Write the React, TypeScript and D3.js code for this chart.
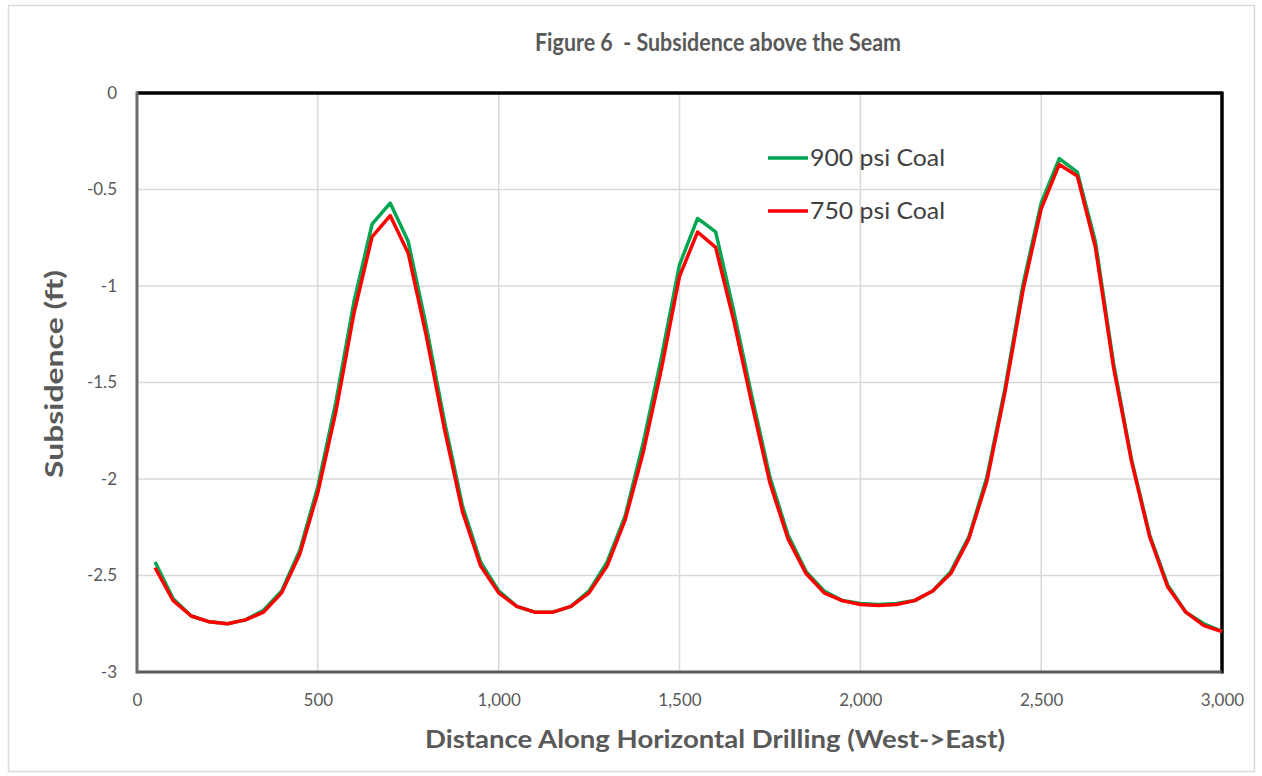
// @ts-nocheck
import * as d3 from 'd3';
import React, { useEffect, useRef } from 'react';

// distance along horizontal drilling (ft)
const distances = [
  50, 100, 150, 200, 250, 300, 350, 400, 450, 500,
  550, 600, 650, 700, 750, 800, 850, 900, 950, 1000,
  1050, 1100, 1150, 1200, 1250, 1300, 1350, 1400, 1450, 1500,
  1550, 1600, 1650, 1700, 1750, 1800, 1850, 1900, 1950, 2000,
  2050, 2100, 2150, 2200, 2250, 2300, 2350, 2400, 2450, 2500,
  2550, 2600, 2650, 2700, 2750, 2800, 2850, 2900, 2950, 3000,
];

const coal900 = [
  -2.43, -2.62, -2.71, -2.74, -2.75, -2.73, -2.68, -2.58, -2.37, -2.04,
  -1.6, -1.08, -0.68, -0.57, -0.77, -1.21, -1.7, -2.14, -2.43, -2.58,
  -2.66, -2.69, -2.69, -2.66, -2.58, -2.43, -2.19, -1.81, -1.37, -0.89,
  -0.65, -0.72, -1.13, -1.57, -1.99, -2.29, -2.48, -2.58, -2.63, -2.645,
  -2.65, -2.645, -2.63, -2.58, -2.48, -2.3, -1.99, -1.53, -0.99, -0.57,
  -0.34, -0.41, -0.77, -1.4, -1.9, -2.29, -2.55, -2.69, -2.75, -2.79,
];

const coal750 = [
  -2.46, -2.63, -2.71, -2.74, -2.75, -2.73, -2.69, -2.59, -2.39, -2.07,
  -1.65, -1.14, -0.745, -0.635, -0.83, -1.26, -1.74, -2.17, -2.45, -2.59,
  -2.66, -2.69, -2.69, -2.66, -2.59, -2.45, -2.21, -1.86, -1.43, -0.95,
  -0.72, -0.8, -1.18, -1.61, -2.02, -2.31, -2.49, -2.59, -2.63, -2.65,
  -2.655, -2.65, -2.63, -2.58, -2.49, -2.31, -2.01, -1.55, -1.02, -0.6,
  -0.37, -0.43, -0.8, -1.42, -1.91, -2.3, -2.56, -2.69, -2.76, -2.79,
];

const seriesNames = ['900 psi Coal', '750 psi Coal'];
const seriesColors = ['#00a651', '#ff0000'];

const xTicks = [0, 500, 1000, 1500, 2000, 2500, 3000];
const yTicks = [0, -0.5, -1, -1.5, -2, -2.5, -3];

const W = 1262;
const H = 776;
const FONT = 'Lato, "Open Sans", sans-serif';

export default function App() {
  const svgRef = useRef<SVGSVGElement>(null);

  useEffect(() => {
    const svg = d3.select(svgRef.current);
    svg.selectAll('*').remove();

    const margin = { top: 93, right: 40, bottom: 104, left: 137 };
    const innerWidth = W - margin.left - margin.right;
    const innerHeight = H - margin.top - margin.bottom;

    // outer chart area border
    svg.append('rect')
      .attr('x', 8.5).attr('y', 5.5)
      .attr('width', W - 16).attr('height', H - 10)
      .attr('fill', '#ffffff')
      .attr('stroke', '#d9d9d9')
      .attr('stroke-width', 1.5);

    svg.append('text')
      .attr('x', 535)
      .attr('y', 51)
      .attr('textLength', 366)
      .attr('lengthAdjust', 'spacingAndGlyphs')
      .style('font-family', FONT)
      .style('font-size', '25px')
      .style('font-weight', 'bold')
      .style('fill', '#595959')
      .text('Figure 6 \u00a0- Subsidence above the Seam');

    const g = svg.append('g').attr('transform', `translate(${margin.left},${margin.top})`);

    const xScale = d3.scaleLinear().domain([0, 3000]).range([0, innerWidth]);
    const yScale = d3.scaleLinear().domain([-3, 0]).range([innerHeight, 0]);

    // gridlines
    g.append('g')
      .selectAll('line')
      .data(xTicks.slice(1, -1))
      .enter()
      .append('line')
      .attr('x1', d => xScale(d)).attr('x2', d => xScale(d))
      .attr('y1', 0).attr('y2', innerHeight)
      .attr('stroke', '#d9d9d9').attr('stroke-width', 1.5);

    g.append('g')
      .selectAll('line')
      .data(yTicks.slice(1, -1))
      .enter()
      .append('line')
      .attr('x1', 0).attr('x2', innerWidth)
      .attr('y1', d => yScale(d)).attr('y2', d => yScale(d))
      .attr('stroke', '#d9d9d9').attr('stroke-width', 1.5);

    // frame
    g.append('line')
      .attr('x1', 0).attr('x2', innerWidth).attr('y1', 0).attr('y2', 0)
      .attr('stroke', '#000000').attr('stroke-width', 3.5);
    g.append('line')
      .attr('x1', innerWidth).attr('x2', innerWidth).attr('y1', -1.5).attr('y2', innerHeight + 1.5)
      .attr('stroke', '#000000').attr('stroke-width', 3.5);
    g.append('line')
      .attr('x1', 0).attr('x2', innerWidth).attr('y1', innerHeight).attr('y2', innerHeight)
      .attr('stroke', '#595959').attr('stroke-width', 3);
    g.append('line')
      .attr('x1', 0).attr('x2', 0).attr('y1', -1.5).attr('y2', innerHeight + 1.5)
      .attr('stroke', '#6b6b6b').attr('stroke-width', 3);

    // axes tick labels
    const xAxis = d3.axisBottom(xScale)
      .tickValues(xTicks)
      .tickSize(0)
      .tickPadding(22)
      .tickFormat(d3.format(','));
    const xa = g.append('g').attr('transform', `translate(0,${innerHeight})`).call(xAxis);
    xa.select('.domain').remove();
    xa.selectAll('text')
      .style('font-family', FONT)
      .style('font-size', '17px')
      .style('fill', '#595959');

    const yAxis = d3.axisLeft(yScale)
      .tickValues(yTicks)
      .tickSize(0)
      .tickPadding(20)
      .tickFormat(d => (d === 0 ? '0' : String(d)));
    const ya = g.append('g').call(yAxis);
    ya.select('.domain').remove();
    ya.selectAll('text')
      .style('font-family', FONT)
      .style('font-size', '17px')
      .style('fill', '#595959');

    // axis titles
    svg.append('text')
      .attr('transform', `translate(63,478) rotate(-90)`)
      .attr('textLength', 208)
      .attr('lengthAdjust', 'spacingAndGlyphs')
      .style('font-family', FONT)
      .style('font-size', '24px')
      .style('font-weight', 'bold')
      .style('fill', '#595959')
      .text('Subsidence (ft)');

    svg.append('text')
      .attr('x', 425)
      .attr('y', 748)
      .attr('textLength', 580)
      .attr('lengthAdjust', 'spacingAndGlyphs')
      .style('font-family', FONT)
      .style('font-size', '24px')
      .style('font-weight', 'bold')
      .style('fill', '#595959')
      .text('Distance Along Horizontal Drilling (West->East)');

    // lines
    const line = d3.line<number>()
      .x((d, i) => xScale(distances[i]))
      .y(d => yScale(d));

    [coal900, coal750].forEach((values, k) => {
      g.append('path')
        .datum(values)
        .attr('fill', 'none')
        .attr('stroke', seriesColors[k])
        .attr('stroke-width', 3.5)
        .attr('stroke-linejoin', 'round')
        .attr('d', line);
    });

    // legend
    const legend = svg.append('g').attr('transform', 'translate(768,158)');
    seriesNames.forEach((name, k) => {
      const row = legend.append('g').attr('transform', `translate(0,${k * 53})`);
      row.append('line')
        .attr('x1', 0).attr('x2', 40).attr('y1', 0).attr('y2', 0)
        .attr('stroke', seriesColors[k]).attr('stroke-width', 3.5);
      row.append('text')
        .attr('x', 42)
        .attr('y', 0)
        .attr('dy', '0.35em')
        .attr('textLength', 135)
        .attr('lengthAdjust', 'spacingAndGlyphs')
        .style('font-family', FONT)
        .style('font-size', '24px')
        .style('fill', '#404040')
        .text(name);
    });
  }, []);

  return (
    <svg
      ref={svgRef}
      width={W}
      height={H}
      style={{ position: 'absolute', left: 0, top: 0, display: 'block', background: '#ffffff' }}
    />
  );
}
